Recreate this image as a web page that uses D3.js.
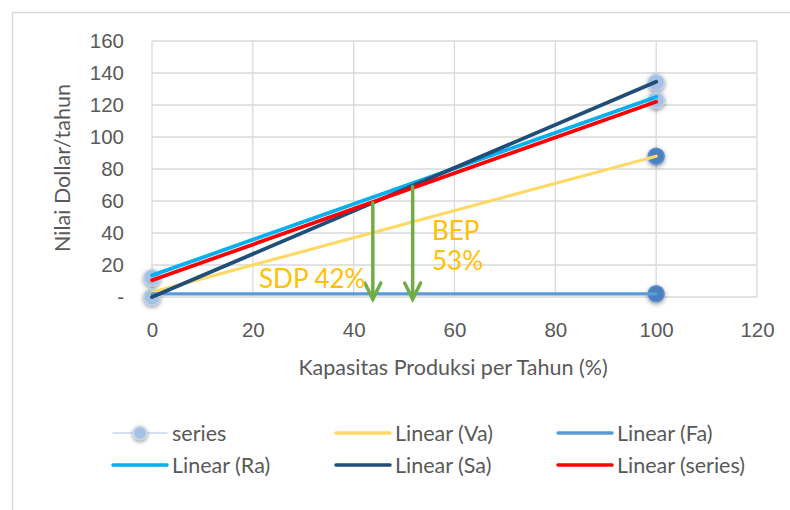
<!DOCTYPE html>
<html>
<head>
  <meta charset="UTF-8">
  <title>BEP Chart</title>
  <script src="https://d3js.org/d3.v7.min.js"></script>
  <style>
    body { margin: 0; background: white; }
    svg { font-family: Lato, "Open Sans", sans-serif; }
    .tick-label { fill: #595959; font-size: 20.5px; }
    .axis-title { fill: #595959; font-size: 21.5px; }
    .legend-text { fill: #595959; font-size: 21.5px; }
    .note { fill: #ffc000; font-size: 26px; }
  </style>
</head>
<body>
  <svg></svg>
  <script>
    // tick values
    const xTicks = [0, 20, 40, 60, 80, 100, 120];
    const yTicks = [0, 20, 40, 60, 80, 100, 120, 140, 160];

    // scatter points ("series")
    const pointX = [0, 0, 100, 100, 100, 100];
    const pointY = [12, 0, 134, 123, 88, 2];
    const pointDark = [false, false, false, false, true, true];

    // trendline end points (x = 0 and x = 100)
    const trendX = [0, 100];
    const trendNames = ['Linear (Va)', 'Linear (Fa)', 'Linear (Ra)', 'Linear (Sa)', 'Linear (series)'];
    const trendColors = ['#ffd966', '#5b9bd5', '#00b0f0', '#1f4e79', '#ff0000'];
    const vaY = [3, 88];
    const faY = [2, 2];
    const raY = [13.5, 125];
    const saY = [0, 134.5];
    const seriesY = [10.5, 122];

    // arrows: x position and top value
    const arrowX = [43.8, 51.7];
    const arrowTop = [59, 69];

    const width = 790, height = 510;
    const svg = d3.select('svg').attr('width', width).attr('height', height);

    // outer chart border
    svg.append('rect')
      .attr('x', 12.5).attr('y', 12.5)
      .attr('width', 800).attr('height', 520)
      .attr('fill', 'none').attr('stroke', '#d9d9d9').attr('stroke-width', 1.5);

    const x = d3.scaleLinear().domain([0, 120]).range([152, 757]);
    const y = d3.scaleLinear().domain([0, 160]).range([297, 41]);

    const defs = svg.append('defs');
    const shadow = defs.append('filter').attr('id', 'shadow')
      .attr('x', '-50%').attr('y', '-50%').attr('width', '200%').attr('height', '200%');
    shadow.append('feDropShadow').attr('dx', 0).attr('dy', 1.5)
      .attr('stdDeviation', 2).attr('flood-color', '#000').attr('flood-opacity', 0.45);

    // gridlines
    svg.append('g').selectAll('line').data(yTicks).enter().append('line')
      .attr('x1', x(0)).attr('x2', x(120))
      .attr('y1', d => y(d)).attr('y2', d => y(d))
      .attr('stroke', '#d9d9d9').attr('stroke-width', 1.3);
    svg.append('g').selectAll('line').data(xTicks).enter().append('line')
      .attr('y1', y(0)).attr('y2', y(160))
      .attr('x1', d => x(d)).attr('x2', d => x(d))
      .attr('stroke', '#d9d9d9').attr('stroke-width', 1.3);

    // axes (labels only)
    const yAxis = svg.append('g')
      .attr('transform', `translate(${x(0)},0)`)
      .call(d3.axisLeft(y).tickValues(yTicks).tickSize(0).tickPadding(28)
        .tickFormat(d => d === 0 ? '-' : d));
    yAxis.select('.domain').remove();
    yAxis.selectAll('text').attr('class', 'tick-label').attr('font-family', null).attr('font-size', null);

    const xAxis = svg.append('g')
      .attr('transform', `translate(0,${y(0)})`)
      .call(d3.axisBottom(x).tickValues(xTicks).tickSize(0).tickPadding(25));
    xAxis.select('.domain').remove();
    xAxis.selectAll('text').attr('class', 'tick-label').attr('font-family', null).attr('font-size', null);

    // axis titles
    svg.append('text').attr('class', 'axis-title')
      .attr('x', 453).attr('y', 367).attr('dy', '0.35em').attr('text-anchor', 'middle')
      .text('Kapasitas Produksi per Tahun (%)');
    svg.append('text').attr('class', 'axis-title')
      .attr('transform', 'translate(62,168) rotate(-90)')
      .attr('text-anchor', 'middle').attr('dy', '0.35em')
      .text('Nilai Dollar/tahun');

    // scatter points
    const pts = pointX.map((d, i) => ({ x: d, y: pointY[i], dark: pointDark[i] }));
    svg.append('g').selectAll('circle').data(pts).enter().append('circle')
      .attr('cx', d => x(d.x)).attr('cy', d => y(d.y)).attr('r', 8)
      .attr('fill', d => d.dark ? '#4a7fbf' : '#a7c1e4')
      .attr('stroke', d => d.dark ? '#5b8fcf' : '#b9cfee').attr('stroke-width', 1.5)
      .attr('filter', 'url(#shadow)');

    // trendlines
    const trendData = [vaY, faY, raY, saY, seriesY];
    const line = d3.line().x(d => x(d[0])).y(d => y(d[1]));
    trendData.forEach((vals, i) => {
      svg.append('path')
        .datum(trendX.map((t, j) => [t, vals[j]]))
        .attr('d', line)
        .attr('fill', 'none')
        .attr('stroke', trendColors[i])
        .attr('stroke-width', i === 0 || i === 1 ? 3.2 : 3.8)
        .attr('stroke-linecap', 'round');
    });

    // green arrows
    arrowX.forEach((ax, i) => {
      const g = svg.append('g').attr('stroke', '#70ad47').attr('stroke-width', 3.5)
        .attr('fill', 'none').attr('stroke-linecap', 'round');
      g.append('line').attr('x1', x(ax)).attr('x2', x(ax))
        .attr('y1', y(arrowTop[i])).attr('y2', y(0) + 2);
      g.append('path')
        .attr('d', `M${x(ax) - 8},${y(0) - 14} L${x(ax)},${y(0) + 2} L${x(ax) + 8},${y(0) - 14}`);
    });

    // annotations
    svg.append('text').attr('class', 'note').attr('x', 259).attr('y', 288).text('SDP 42%');
    svg.append('text').attr('class', 'note').attr('x', 432).attr('y', 240).text('BEP');
    svg.append('text').attr('class', 'note').attr('x', 432).attr('y', 270).text('53%');

    // legend
    const legendItems = [
      { name: 'series', color: '#c9d7ec', marker: true },
      { name: trendNames[0], color: trendColors[0] },
      { name: trendNames[1], color: trendColors[1] },
      { name: trendNames[2], color: trendColors[2] },
      { name: trendNames[3], color: trendColors[3] },
      { name: trendNames[4], color: trendColors[4] }
    ];
    const colX = [113, 336, 558];
    const rowY = [433, 465];
    legendItems.forEach((d, i) => {
      const lx = colX[i % 3], ly = rowY[Math.floor(i / 3)];
      const g = svg.append('g');
      g.append('line').attr('x1', lx).attr('x2', lx + 54).attr('y1', ly).attr('y2', ly)
        .attr('stroke', d.color).attr('stroke-width', d.marker ? 1.5 : 3.5)
        .attr('stroke-linecap', 'round');
      if (d.marker) {
        g.append('circle').attr('cx', lx + 27).attr('cy', ly).attr('r', 6.5)
          .attr('fill', '#a7c1e4').attr('stroke', '#c9d7ec').attr('stroke-width', 1.5)
          .attr('filter', 'url(#shadow)');
      }
      g.append('text').attr('class', 'legend-text')
        .attr('x', lx + 59).attr('y', ly).attr('dy', '0.35em')
        .text(d.name);
    });
  </script>
</body>
</html>
